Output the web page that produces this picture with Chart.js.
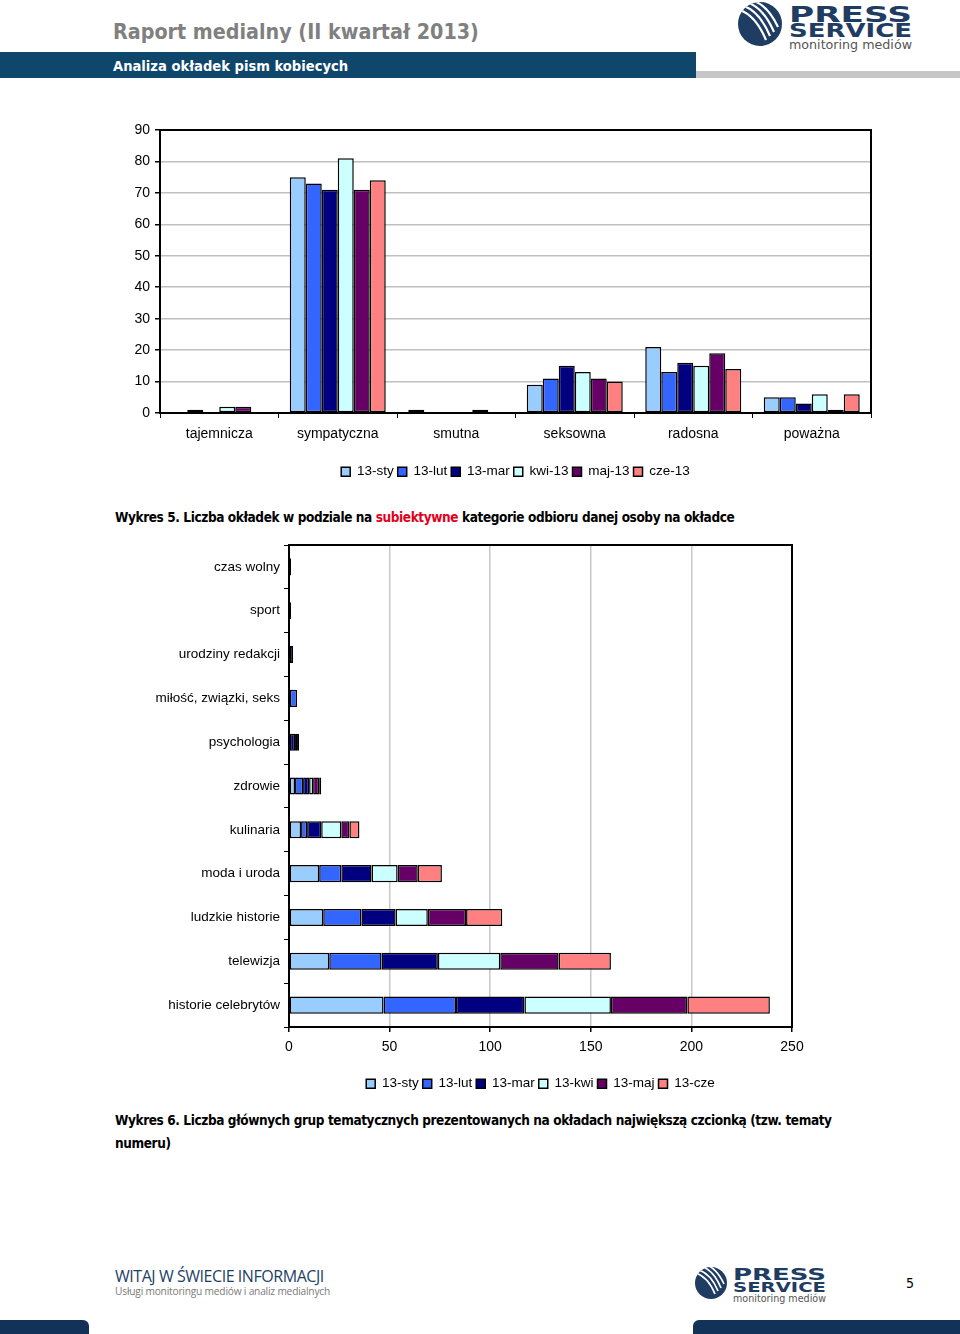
<!DOCTYPE html>
<html>
<head>
<meta charset="utf-8">
<script src="https://cdn.jsdelivr.net/npm/chart.js@4"></script>
<style>
  html, body { margin: 0; padding: 0; background: #fff; }
  body { width: 960px; height: 1334px; position: relative; overflow: hidden; }
  .abs { position: absolute; }
  .hdr-title { left: 113px; top: 19px; font: bold 21.3px "DejaVu Sans Condensed", "DejaVu Sans", sans-serif; color: #808080; white-space: nowrap; }
  .hdr-bar { left: 0; top: 52px; width: 696px; height: 26px; background: #0f466b; }
  .hdr-sub { left: 113px; top: 57px; font: bold 14.6px "DejaVu Sans Condensed", "DejaVu Sans", sans-serif; color: #fff; white-space: nowrap; }
  .hdr-grey { left: 696px; top: 71px; width: 264px; height: 7px; background: #c6c6c6; }
  .caption { left: 115px; font: bold 13.5px "DejaVu Sans Condensed", "DejaVu Sans", sans-serif; color: #000; white-space: nowrap; line-height: 23px; letter-spacing: -0.4px; }
  .caption span { color: #e3001b; }
  .foot1 { left: 115px; top: 1265px; font: 16px "Open Sans", "DejaVu Sans Condensed", sans-serif; color: #1d3f66; white-space: nowrap; letter-spacing: -0.45px; }
  .foot2 { left: 115px; top: 1284px; font: 10.2px "Open Sans", "DejaVu Sans Condensed", sans-serif; color: #7a7a7a; white-space: nowrap; letter-spacing: -0.2px; }
  .pageno { left: 906px; top: 1275px; font: 14px "DejaVu Sans Condensed", sans-serif; color: #000; }
  .bot { top: 1320px; height: 14px; background: #13325a; }
  canvas { position: absolute; left: 0; }
</style>
</head>
<body>

<div class="abs hdr-title">Raport medialny (II kwartał 2013)</div>
<div class="abs hdr-bar"></div>
<div class="abs hdr-sub">Analiza okładek pism kobiecych</div>
<div class="abs hdr-grey"></div>

<!-- logo na górze -->
<svg class="abs" style="left:736px;top:0px" width="224" height="56">
  <defs><clipPath id="c1"><circle cx="24" cy="24" r="22"/></clipPath></defs>
  <circle cx="24" cy="24" r="22" fill="#1f3c62"/>
  <g clip-path="url(#c1)" stroke="#fff" stroke-width="2.2" fill="none">
    <path d="M4 10 Q20 16 30 40"/><path d="M8 6 Q24 12 34 36"/><path d="M13 3 Q28 9 38 32"/><path d="M18 1 Q32 6 42 27"/>
  </g>
  <text x="53" y="22" textLength="123" lengthAdjust="spacingAndGlyphs" font-family="DejaVu Sans" font-weight="bold" font-size="22" fill="#1f3c62">PRESS</text>
  <text x="53" y="37" textLength="123" lengthAdjust="spacingAndGlyphs" font-family="DejaVu Sans" font-weight="bold" font-size="19" fill="#1f3c62">SERVICE</text>
  <text x="53" y="49" textLength="123" lengthAdjust="spacingAndGlyphs" font-family="DejaVu Sans" font-size="13" fill="#555">monitoring mediów</text>
</svg>

<canvas id="chart1" width="960" height="380" style="top:110px"></canvas>

<div class="abs caption" style="top:506px">Wykres 5. Liczba okładek w podziale na <span>subiektywne</span> kategorie odbioru danej osoby na okładce</div>

<canvas id="chart2" width="960" height="572" style="top:530px"></canvas>

<div class="abs caption" style="top:1109px">Wykres 6. Liczba głównych grup tematycznych prezentowanych na okładach największą czcionką (tzw. tematy<br>numeru)</div>

<div class="abs foot1">WITAJ W ŚWIECIE INFORMACJI</div>
<div class="abs foot2">Usługi monitoringu mediów i analiz medialnych</div>

<!-- logo w stopce -->
<svg class="abs" style="left:694px;top:1264px" width="140" height="42">
  <defs><clipPath id="c2"><circle cx="17" cy="19" r="16"/></clipPath></defs>
  <circle cx="17" cy="19" r="16" fill="#1f3c62"/>
  <g clip-path="url(#c2)" stroke="#fff" stroke-width="1.7" fill="none">
    <path d="M2 9 Q14 13 21 30"/><path d="M5 6 Q17 10 24 27"/><path d="M9 3 Q20 7 27 24"/><path d="M13 1 Q23 5 30 20"/>
  </g>
  <text x="39" y="16" textLength="93" lengthAdjust="spacingAndGlyphs" font-family="DejaVu Sans" font-weight="bold" font-size="16" fill="#1f3c62">PRESS</text>
  <text x="39" y="28" textLength="93" lengthAdjust="spacingAndGlyphs" font-family="DejaVu Sans" font-weight="bold" font-size="14" fill="#1f3c62">SERVICE</text>
  <text x="39" y="38" textLength="93" lengthAdjust="spacingAndGlyphs" font-family="DejaVu Sans" font-size="10" fill="#555">monitoring mediów</text>
</svg>
<div class="abs pageno">5</div>

<div class="abs bot" style="left:0;width:89px;border-top-right-radius:6px"></div>
<div class="abs bot" style="left:693px;width:267px;border-top-left-radius:6px"></div>

<script>
// dane - wykres osobowości (kolumny)
const cats1 = ['tajemnicza', 'sympatyczna', 'smutna', 'seksowna', 'radosna', 'poważna'];
const series1 = ['13-sty', '13-lut', '13-mar', 'kwi-13', 'maj-13', 'cze-13'];
const sty1 = [0, 75, 1, 9, 21, 5];
const lut1 = [1, 73, 0, 11, 13, 5];
const mar1 = [0, 71, 0, 15, 16, 3];
const kwi1 = [2, 81, 0, 13, 15, 6];
const maj1 = [2, 71, 1, 11, 19, 1];
const cze1 = [0, 74, 0, 10, 14, 6];
const yTicks1 = [0, 10, 20, 30, 40, 50, 60, 70, 80, 90];

// dane - grupy tematyczne (słupki skumulowane)
const cats2 = ['czas wolny', 'sport', 'urodziny redakcji', 'miłość, związki, seks', 'psychologia',
  'zdrowie', 'kulinaria', 'moda i uroda', 'ludzkie historie', 'telewizja', 'historie celebrytów'];
const series2 = ['13-sty', '13-lut', '13-mar', '13-kwi', '13-maj', '13-cze'];
const sty2 = [0, 0, 0, 0, 0, 3, 6, 15, 17, 20, 47];
const lut2 = [0, 0, 0, 4, 0, 4, 3, 11, 19, 26, 36];
const mar2 = [1, 1, 2, 0, 3, 3, 7, 15, 17, 28, 34];
const kwi2 = [0, 0, 0, 0, 1, 2, 10, 13, 16, 31, 43];
const maj2 = [0, 0, 0, 0, 1, 3, 4, 10, 19, 29, 38];
const cze2 = [0, 0, 0, 0, 0, 1, 5, 12, 18, 26, 41];
const xTicks2 = [0, 50, 100, 150, 200, 250];

const colors = ['#99ccff', '#3366ff', '#000080', '#ccffff', '#660066', '#ff8080'];

Chart.defaults.font.family = 'Arial, "Liberation Sans", sans-serif';
Chart.defaults.font.size = 14;
Chart.defaults.color = '#000';
Chart.defaults.animation = false;

// czarna ramka wokół obszaru wykresu
const frame = {
  id: 'frame',
  beforeDatasetsDraw(chart) {
    const a = chart.chartArea, c = chart.ctx;
    c.save();
    c.strokeStyle = '#000';
    c.lineWidth = 2;
    c.strokeRect(a.left, a.top, a.right - a.left, a.bottom - a.top);
    c.restore();
  }
};

function makeSets(labels, arrs) {
  return arrs.map((d, i) => ({
    label: labels[i],
    data: d,
    backgroundColor: colors[i],
    borderColor: '#000',
    borderWidth: 1.5,
    borderSkipped: false
  }));
}

const legendOpts = {
  position: 'bottom',
  fullSize: false,
  labels: { boxWidth: 9, boxHeight: 9, padding: 4, color: '#000', font: { size: 13.5 } }
};

new Chart(document.getElementById('chart1'), {
  type: 'bar',
  data: { labels: cats1, datasets: makeSets(series1, [sty1, lut1, mar1, kwi1, maj1, cze1]) },
  options: {
    responsive: false,
    layout: { padding: { left: 0, right: 89, top: 20, bottom: 1.5 } },
    categoryPercentage: 0.81,
    barPercentage: 1.0,
    plugins: { legend: legendOpts, tooltip: { enabled: false } },
    scales: {
      x: {
        grid: { offset: true, drawOnChartArea: false, color: '#000', tickLength: 5 },
        border: { color: '#000', width: 2 },
        ticks: { padding: 8, font: { size: 14 } },
        afterFit: s => { s.height = 48; }
      },
      y: {
        min: 0, max: 90,
        afterBuildTicks: s => { s.ticks = yTicks1.map(v => ({ value: v })); },
        grid: { color: '#c0c0c0', lineWidth: 1.5, tickColor: '#000', tickLength: 5 },
        border: { color: '#000', width: 2 },
        ticks: { padding: 5, font: { size: 14 } },
        afterFit: s => { s.width = 160; }
      }
    }
  },
  plugins: [frame]
});

new Chart(document.getElementById('chart2'), {
  type: 'bar',
  data: { labels: cats2, datasets: makeSets(series2, [sty2, lut2, mar2, kwi2, maj2, cze2]) },
  options: {
    indexAxis: 'y',
    responsive: false,
    layout: { padding: { left: 0, right: 168, top: 15, bottom: 1.5 } },
    categoryPercentage: 0.39,
    barPercentage: 1.0,
    plugins: { legend: legendOpts, tooltip: { enabled: false } },
    scales: {
      x: {
        stacked: true,
        min: 0, max: 250,
        afterBuildTicks: s => { s.ticks = xTicks2.map(v => ({ value: v })); },
        grid: { color: '#c8c8c8', lineWidth: 1.5, tickColor: '#000', tickLength: 5 },
        border: { color: '#000', width: 2 },
        ticks: { padding: 7, font: { size: 14 } },
        afterFit: s => { s.height = 46; }
      },
      y: {
        stacked: true,
        grid: { offset: true, drawOnChartArea: false, color: '#000', tickLength: 5 },
        border: { color: '#000', width: 2 },
        ticks: { padding: 4, font: { size: 13.5 } },
        afterFit: s => { s.width = 289; }
      }
    }
  },
  plugins: [frame]
});
</script>
</body>
</html>
